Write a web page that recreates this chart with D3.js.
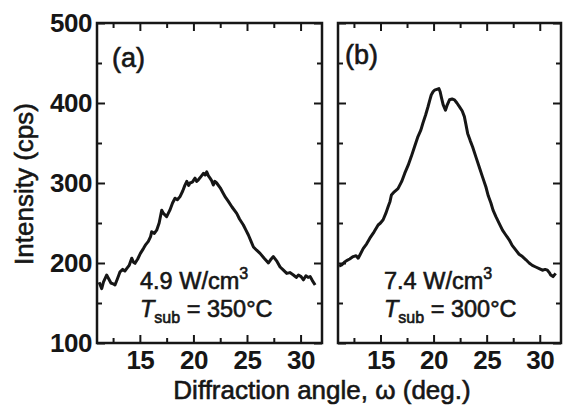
<!DOCTYPE html>
<html><head><meta charset="utf-8">
<script src="https://cdn.jsdelivr.net/npm/d3@7"></script>
<style>body{margin:0;background:#fff} svg{display:block}</style>
</head><body><svg id="c" width="563" height="412"></svg>
<script>
// ---- data ----
const angleA = [11.2,11.44,11.6,11.9,12.1,12.3,12.5,12.68,12.9,13.15,13.4,13.6,13.77,14.0,14.24,14.4,14.55,14.8,15.05,15.33,15.55,15.79,16.0,16.1,16.35,16.57,16.8,17.04,17.2,17.5,17.8,18.05,18.28,18.5,18.75,19.0,19.2,19.38,19.55,19.68,19.9,20.15,20.3,20.46,20.7,20.93,21.1,21.24,21.4,21.55,21.7,21.86,22.0,22.17,22.5,22.79,23.0,23.26,23.6,24.04,24.3,24.66,24.9,25.13,25.35,25.6,25.9,26.22,26.6,27.0,27.2,27.46,27.8,28.09,28.4,28.71,29.0,29.33,29.6,29.8,30.05,30.27,30.5,30.7,30.89,31.1,31.36];
const intensityA = [176,168,176,185,180,175,174,172.5,180,189,192,190,193,197,206,201,199.6,205,212,218,223,227,233,239,237,241,250,266,262,258,266,275,281,279,283,290,297,302,297,300,301,306,302,304,308,312,310,314,309,306,303,297.5,302,300,294,287,282,277,270,262,255,247.5,241,235,228,220,216,212,206,200,204,208,202,195,191,187,188,185,182,185,183,179,184,182,183,178,172.5];
const angleB = [11.1,11.35,11.6,11.81,12.1,12.43,12.7,12.9,13.1,13.37,13.7,14.0,14.4,14.78,15.0,15.25,15.5,15.71,15.9,16.03,16.3,16.65,17.0,17.28,17.6,17.9,18.2,18.53,18.8,19.0,19.25,19.47,19.65,19.78,19.95,20.09,20.3,20.5,20.62,20.72,20.9,21.12,21.3,21.5,21.75,21.97,22.2,22.43,22.7,22.9,23.05,23.21,23.45,23.68,24.0,24.3,24.6,24.93,25.15,25.4,25.6,25.87,26.2,26.49,26.8,27.12,27.4,27.75,28.05,28.37,28.7,29.0,29.3,29.62,29.95,30.25,30.5,30.72,30.9,31.03,31.25,31.5];
const intensityB = [196,197.5,201,203,205,208,209,206,211,218,224,231,239,247.5,250,254,262,270,277,285,289,293,302,312,322,333,345,358,366,375,385,395,404,410,414,416,417,418,414,408,398,391,398,404,405,404,400,395.5,390,383,373,362,353,345,332,320,308,295,284,275,266,258,249,241,235,229,222,216,211,208,204,200,197,195,193,191,192,191,188,185,183,187];
const xMajorTicks = [15,20,25,30];
const xMinorTicks = [12.5,17.5,22.5,27.5];
const yMajorTicks = [100,200,300,400,500];
const yMinorTicks = [150,250,350,450];
const panelLabels = ["(a)","(b)"];
const powerLabels = ["4.9 W/cm","7.4 W/cm"];
const tempLabels = ["350°C","300°C"];

const ink = "#161616";
const font = "'Liberation Sans', Arial, Helvetica, sans-serif";
const svg = d3.select("#c");
svg.append("rect").attr("width",563).attr("height",412).attr("fill","#fff");

const yTop = 23, yBot = 343;
const panels = [
  {x0:97, x1:322, ang:angleA, val:intensityA, lab:panelLabels[0], pw:powerLabels[0], tp:tempLabels[0], labX:112, labY:67, annX:140, left:true},
  {x0:338, x1:561, ang:angleB, val:intensityB, lab:panelLabels[1], pw:powerLabels[1], tp:tempLabels[1], labX:345, labY:64, annX:384, left:false}
];
const y = d3.scaleLinear().domain([100,500]).range([yBot,yTop]);
const heavy = sel => sel.attr("stroke",ink).attr("stroke-width",0.6).attr("paint-order","stroke");

panels.forEach(p => {
  const x = d3.scaleLinear().domain([11,32]).range([p.x0,p.x1]);
  const g = svg.append("g");
  const mk = (axis, scale, vals, size, fmt) => {
    let a = axis(scale).tickValues(vals).tickSizeInner(size).tickSizeOuter(0);
    if (!fmt) a = a.tickFormat("");
    return a;
  };
  const style = sel => {
    sel.select(".domain").remove();
    sel.selectAll("line").attr("stroke",ink).attr("stroke-width",2);
    sel.selectAll("text").attr("fill",ink).attr("font-family",font).attr("font-size",26).attr("font-weight","bold").attr("letter-spacing","-0.5");
  };
  g.append("g").attr("transform",`translate(0,${yBot})`).call(mk(d3.axisBottom,x,xMajorTicks,-8,true).tickPadding(8).tickFormat(d3.format("d"))).call(style);
  g.append("g").attr("transform",`translate(0,${yBot})`).call(mk(d3.axisBottom,x,xMinorTicks,-5,false)).call(style);
  g.append("g").attr("transform",`translate(0,${yTop})`).call(mk(d3.axisTop,x,xMajorTicks,-8,false)).call(style);
  g.append("g").attr("transform",`translate(0,${yTop})`).call(mk(d3.axisTop,x,xMinorTicks,-5,false)).call(style);
  if (p.left) {
    g.append("g").attr("transform",`translate(${p.x0},0)`).call(mk(d3.axisLeft,y,yMajorTicks,-8,true).tickPadding(5).tickFormat(d3.format("d"))).call(style);
  } else {
    g.append("g").attr("transform",`translate(${p.x0},0)`).call(mk(d3.axisLeft,y,yMajorTicks,-8,false)).call(style);
  }
  g.append("g").attr("transform",`translate(${p.x0},0)`).call(mk(d3.axisLeft,y,yMinorTicks,-5,false)).call(style);
  g.append("g").attr("transform",`translate(${p.x1},0)`).call(mk(d3.axisRight,y,yMajorTicks,-8,false)).call(style);
  g.append("g").attr("transform",`translate(${p.x1},0)`).call(mk(d3.axisRight,y,yMinorTicks,-5,false)).call(style);
  g.append("rect").attr("x",p.x0).attr("y",yTop).attr("width",p.x1-p.x0).attr("height",yBot-yTop)
    .attr("fill","none").attr("stroke",ink).attr("stroke-width",2.5);
  const line = d3.line().x((d,i)=>x(p.ang[i])).y(d=>y(d));
  g.append("path").datum(p.val).attr("d",line).attr("fill","none").attr("stroke",ink)
    .attr("stroke-width",3).attr("stroke-linejoin","round");
  g.append("text").attr("x",p.labX).attr("y",p.labY).text(p.lab)
    .attr("font-family",font).attr("font-size",27).attr("fill",ink).call(heavy);
  const t1 = g.append("text").attr("x",p.annX).attr("y",289).attr("font-family",font).attr("font-size",23.5).attr("fill",ink).call(heavy);
  t1.append("tspan").text(p.pw);
  t1.append("tspan").attr("dy",-10).attr("font-size",16).text("3");
  const t2 = g.append("text").attr("x",p.annX).attr("y",317).attr("font-family",font).attr("font-size",23.5).attr("fill",ink).call(heavy);
  t2.append("tspan").attr("font-style","italic").text("T");
  t2.append("tspan").attr("dy",6).attr("font-size",16).text("sub");
  t2.append("tspan").attr("dy",-6).text(" = " + p.tp);
});

svg.append("text").attr("transform","translate(33,184) rotate(-90)").attr("text-anchor","middle")
  .attr("font-family",font).attr("font-size",26).attr("fill",ink).call(heavy).text("Intensity (cps)");
svg.append("text").attr("x",322).attr("y",399).attr("text-anchor","middle")
  .attr("font-family",font).attr("font-size",26).attr("fill",ink).call(heavy).text("Diffraction angle, ω (deg.)");
</script></body></html>
